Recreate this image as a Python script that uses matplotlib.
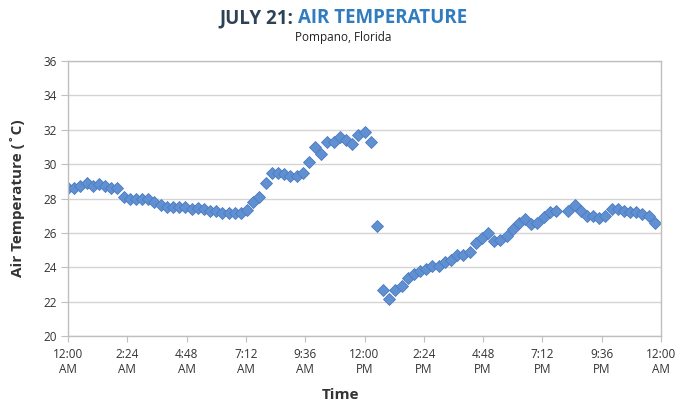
import numpy as np
import matplotlib
matplotlib.use("Agg")
from matplotlib import pyplot as plt

# Temperatura del aire cada 15 minutos (None = dato faltante)
temps = [28.6, 28.6, 28.7, 28.9, 28.7, 28.85, 28.7, 28.6, 28.6,
         28.1, 28.0, 28.0, 28.0, 28.0, 27.8, 27.6, 27.5, 27.5, 27.5, 27.5,
         27.4, 27.45, 27.4, 27.25, 27.25, 27.15, 27.15, 27.15, 27.15,
         27.35, 27.8, 28.1, 28.9, 29.5, 29.5, 29.4, 29.3, 29.3, 29.5,
         30.1, 31.0, 30.6, 31.3, 31.3, 31.6, 31.4, 31.2, 31.7, 31.85, 31.3,
         26.4, 22.7, 22.15, 22.7, 22.9, 23.4, 23.6, 23.8, 23.9, 24.1, 24.1,
         24.3, 24.4, 24.7, 24.7, 24.9, 25.4, 25.7, 26.0, 25.5, 25.6, 25.8,
         26.2, 26.6, 26.8, 26.5, 26.6, 26.9, 27.2, 27.3, None, 27.3, 27.6,
         27.3, 27.0, 27.0, 26.85, 27.0, 27.4, 27.4, 27.3, 27.2, 27.2, 27.1,
         27.0, 26.6]
horas = np.arange(len(temps)) * 0.25  # 15 minutos

xticks = [0, 2.4, 4.8, 7.2, 9.6, 12, 14.4, 16.8, 19.2, 21.6, 24]
xlabels = ["12:00\nAM", "2:24\nAM", "4:48\nAM", "7:12\nAM", "9:36\nAM",
           "12:00\nPM", "2:24\nPM", "4:48\nPM", "7:12\nPM", "9:36\nPM",
           "12:00\nAM"]
yticks = [20, 22, 24, 26, 28, 30, 32, 34, 36]

plt.rcParams['font.family'] = ['Open Sans', 'DejaVu Sans']

fig = plt.figure(figsize=(6.77, 4.07), dpi=100)
ax = fig.add_axes([68/677, 71/407, 593/677, 275/407])

y = np.array([np.nan if t is None else t for t in temps])
ax.plot(horas, y, linestyle='none', marker='D', markersize=5.8,
        markerfacecolor='#6090d2', markeredgecolor='#4a7cc0', markeredgewidth=0.6)

ax.set_xlim(0, 24)
ax.set_ylim(20, 36)
ax.set_xticks(xticks)
ax.set_xticklabels(xlabels, fontsize=8.5, color='#333333', linespacing=1.15)
ax.set_yticks(yticks)
ax.set_yticklabels([str(v) for v in yticks], fontsize=8.5, color='#333333')
ax.tick_params(axis='x', length=4, color='#bfbfbf', pad=5)
ax.tick_params(axis='y', length=5, color='#bfbfbf', pad=3)
ax.grid(axis='y', color='#d4d4d4', linewidth=1)
ax.set_axisbelow(True)
for s in ax.spines.values():
    s.set_color('#bfbfbf')
    s.set_linewidth(1)

fig.text(18/677, 1 - 198/407, "Air Temperature (˚C)", rotation=90, ha='center',
         va='center', fontsize=11, fontweight='bold', color='#333333')
fig.text(341/677, 1 - 395/407, "Time", ha='center', va='center',
         fontsize=11, fontweight='bold', color='#333333')

# titulo en dos colores
t1 = fig.text(0, 1 - 23/407, "JULY 21: ", fontsize=13.5, fontweight='bold',
              color='#2e4256', va='baseline')
t2 = fig.text(0, 1 - 23/407, "AIR TEMPERATURE", fontsize=13.5, fontweight='bold',
              color='#2f7cc0', va='baseline')
fig.canvas.draw()
r = fig.canvas.get_renderer()
w1 = t1.get_window_extent(r).width
w2 = t2.get_window_extent(r).width
x0 = 343 - (w1 + w2) / 2
t1.set_x(x0 / 677)
t2.set_x((x0 + w1) / 677)
fig.text(343/677, 1 - 37/407, "Pompano, Florida", ha='center', va='center',
         fontsize=8.5, color='#222222')

fig.savefig('out.png', dpi=100)
